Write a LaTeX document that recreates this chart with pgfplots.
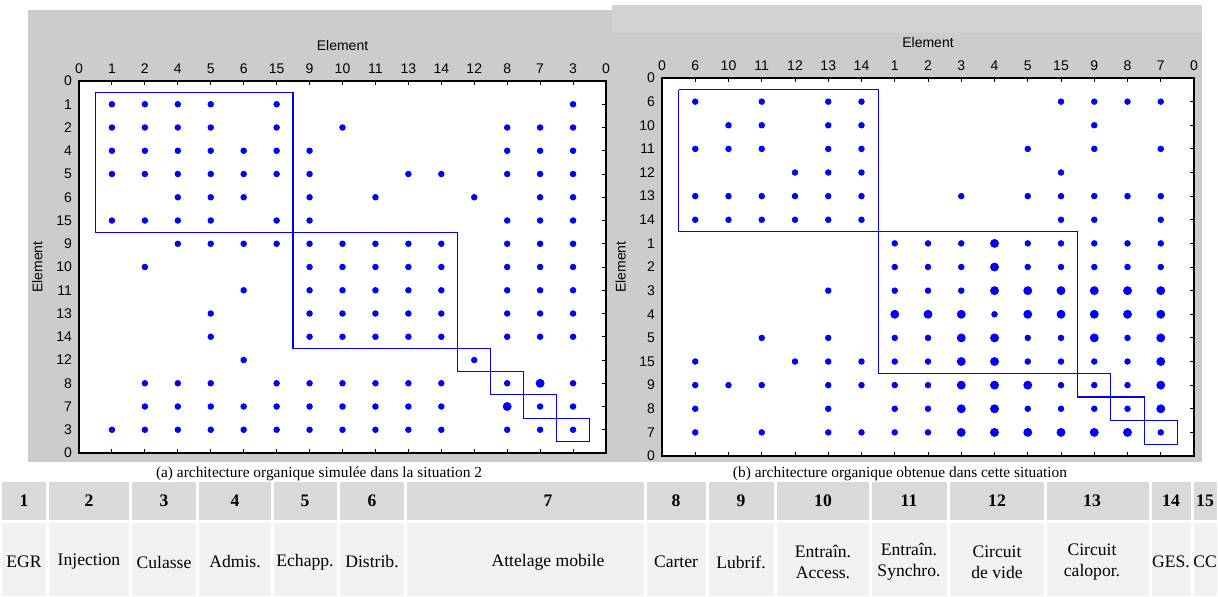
\documentclass[border=0pt]{standalone}
\usepackage{pgfplots}
\pgfplotsset{compat=1.18}
\usepackage{fontspec}
\setmainfont{Liberation Serif}
\setsansfont{Liberation Sans}
\definecolor{panelgray}{RGB}{204,204,204}
\definecolor{panellight}{RGB}{210,210,210}
\definecolor{hdrgray}{RGB}{217,217,217}
\definecolor{bodygray}{RGB}{242,242,242}
\definecolor{dotblue}{RGB}{0,0,255}
\newcommand{\mfont}{\sffamily\fontsize{7}{8}\selectfont}
\pgfplotsset{
  matrixaxis/.style={
    scale only axis, anchor=north west,
    xmin=0, xmax=16, ymin=0, ymax=16, y dir=reverse,
    xtick={0,...,16}, ytick={0,...,16},
    xticklabel pos=upper, xtick pos=both,
    yticklabel pos=left, ytick pos=right,
    tick align=inside, major tick length=2.2pt,
    tick style={black, line width=0.5pt},
    axis line style={black, line width=0.7pt},
    tick label style={font=\mfont},
    label style={font=\mfont},
    xlabel=Element, ylabel=Element,
    axis background/.style={fill=white},
    clip=false,
  },
  sdot/.style={only marks, mark=*, mark size=1.4pt, color=dotblue, mark options={draw=dotblue, fill=dotblue}},
  bdot/.style={only marks, mark=*, mark size=2pt, color=dotblue, mark options={draw=dotblue, fill=dotblue}},
  blk/.style={color=dotblue, line width=0.6pt, mark=none},
}
\begin{document}
\begin{tikzpicture}
\useasboundingbox (0,0) rectangle (609pt,-298pt);
\begin{scope}[x=0.5pt,y=-0.5pt]
  \fill[panelgray] (28,10) rectangle (612,462);
  \fill[panelgray] (612,5) rectangle (1202,462);
  \fill[panellight] (612,5) rectangle (1202,33);
\end{scope}

% ---------- left matrix ----------
\begin{axis}[matrixaxis, at={(39.5pt,-40.5pt)}, width=263.5pt, height=186pt,
  xticklabels={0,1,2,4,5,6,15,9,10,11,13,14,12,8,7,3,0},
  yticklabels={0,1,2,4,5,6,15,9,10,11,13,14,12,8,7,3,0}]
\addplot[sdot] coordinates {
(1,1)(2,1)(3,1)(4,1)(6,1)(15,1)
(1,2)(2,2)(3,2)(4,2)(6,2)(8,2)(13,2)(14,2)(15,2)
(1,3)(2,3)(3,3)(4,3)(5,3)(6,3)(7,3)(13,3)(14,3)(15,3)
(1,4)(2,4)(3,4)(4,4)(5,4)(6,4)(7,4)(10,4)(11,4)(13,4)(14,4)(15,4)
(3,5)(4,5)(5,5)(7,5)(9,5)(12,5)(14,5)(15,5)
(1,6)(2,6)(3,6)(4,6)(6,6)(7,6)(13,6)(14,6)(15,6)
(3,7)(4,7)(5,7)(6,7)(7,7)(8,7)(9,7)(10,7)(11,7)(13,7)(14,7)(15,7)
(2,8)(7,8)(8,8)(9,8)(10,8)(11,8)(13,8)(14,8)(15,8)
(5,9)(7,9)(8,9)(9,9)(10,9)(11,9)(13,9)(14,9)(15,9)
(4,10)(7,10)(8,10)(9,10)(10,10)(11,10)(13,10)(14,10)(15,10)
(4,11)(7,11)(8,11)(9,11)(10,11)(11,11)(13,11)(14,11)(15,11)
(5,12)(12,12)
(2,13)(3,13)(4,13)(6,13)(7,13)(8,13)(9,13)(10,13)(11,13)(13,13)(15,13)
(2,14)(3,14)(4,14)(5,14)(6,14)(7,14)(8,14)(9,14)(10,14)(11,14)(14,14)(15,14)
(1,15)(2,15)(3,15)(4,15)(5,15)(6,15)(7,15)(8,15)(9,15)(10,15)(11,15)(13,15)(14,15)(15,15)
};
\addplot[bdot] coordinates {(14,13)(13,14)};
\addplot[blk] coordinates {(0.5,0.5)(6.5,0.5)(6.5,6.5)(0.5,6.5)(0.5,0.5)};
\addplot[blk] coordinates {(6.5,6.5)(11.5,6.5)(11.5,11.5)(6.5,11.5)(6.5,6.5)};
\addplot[blk] coordinates {(11.5,11.5)(12.5,11.5)(12.5,12.5)(11.5,12.5)(11.5,11.5)};
\addplot[blk] coordinates {(12.5,12.5)(13.5,12.5)(13.5,13.5)(12.5,13.5)(12.5,12.5)};
\addplot[blk] coordinates {(13.5,13.5)(14.5,13.5)(14.5,14.5)(13.5,14.5)(13.5,13.5)};
\addplot[blk] coordinates {(14.5,14.5)(15.5,14.5)(15.5,15.5)(14.5,15.5)(14.5,14.5)};
\end{axis}

% ---------- right matrix ----------
\begin{axis}[matrixaxis, at={(331pt,-39pt)}, width=266pt, height=189pt,
  xticklabels={0,6,10,11,12,13,14,1,2,3,4,5,15,9,8,7,0},
  yticklabels={0,6,10,11,12,13,14,1,2,3,4,5,15,9,8,7,0}]
\addplot[sdot] coordinates {
(1,1)(3,1)(5,1)(6,1)(12,1)(13,1)(14,1)(15,1)
(2,2)(3,2)(5,2)(6,2)(13,2)
(1,3)(2,3)(3,3)(5,3)(6,3)(11,3)(13,3)(15,3)
(4,4)(5,4)(6,4)(12,4)
(1,5)(2,5)(3,5)(4,5)(5,5)(6,5)(9,5)(11,5)(12,5)(13,5)(14,5)(15,5)
(1,6)(2,6)(3,6)(4,6)(5,6)(6,6)(12,6)(13,6)(15,6)
(7,7)(8,7)(9,7)(11,7)(12,7)(13,7)(14,7)(15,7)
(7,8)(8,8)(9,8)(11,8)(12,8)(13,8)(14,8)(15,8)
(5,9)(7,9)(8,9)(9,9)
(10,10)
(3,11)(5,11)(7,11)(8,11)(11,11)(12,11)(14,11)
(1,12)(4,12)(5,12)(6,12)(7,12)(8,12)(11,12)(12,12)(13,12)(14,12)
(1,13)(2,13)(3,13)(5,13)(6,13)(7,13)(8,13)(12,13)(13,13)(14,13)
(1,14)(5,14)(7,14)(8,14)(11,14)(12,14)(13,14)(14,14)
(1,15)(3,15)(5,15)(6,15)(7,15)(8,15)(15,15)
};
\addplot[bdot] coordinates {
(10,7)(10,8)
(10,9)(11,9)(12,9)(13,9)(14,9)(15,9)
(7,10)(8,10)(9,10)(11,10)(12,10)(13,10)(14,10)(15,10)
(9,11)(10,11)(13,11)(15,11)
(9,12)(10,12)(15,12)
(9,13)(10,13)(11,13)(15,13)
(9,14)(10,14)(15,14)
(9,15)(10,15)(11,15)(12,15)(13,15)(14,15)
};
\addplot[blk] coordinates {(0.5,0.5)(6.5,0.5)(6.5,6.5)(0.5,6.5)(0.5,0.5)};
\addplot[blk] coordinates {(6.5,6.5)(12.5,6.5)(12.5,12.5)(6.5,12.5)(6.5,6.5)};
\addplot[blk] coordinates {(12.5,12.5)(13.5,12.5)(13.5,13.5)(12.5,13.5)(12.5,12.5)};
\addplot[blk] coordinates {(13.5,13.5)(14.5,13.5)(14.5,14.5)(13.5,14.5)(13.5,13.5)};
\addplot[blk] coordinates {(14.5,14.5)(15.5,14.5)(15.5,15.5)(14.5,15.5)(14.5,14.5)};
\end{axis}

% ---------- captions and table ----------
\begin{scope}[x=0.5pt,y=-0.5pt]
  \node[font=\fontsize{7.7}{9}\selectfont, inner sep=0pt] at (319,474) {(a) architecture organique simulée dans la situation 2};
  \node[font=\fontsize{7.7}{9}\selectfont, inner sep=0pt] at (900,474) {(b) architecture organique obtenue dans cette situation};
  \foreach \a/\b/\c/\n/\t in {0/47/24/1/EGR, 47/130/89/2/Injection, 130/197/164/3/Culasse, 197/272/235/4/Admis., 272/338/305/5/Echapp., 338/405/372/6/Distrib., 405/645/548/7/Attelage mobile, 645/707/676/8/Carter, 707/775/741/9/Lubrif., 775/870/823/10/{Entraîn.\\Access.}, 870/948/909/11/{Entraîn.\\Synchro.}, 948/1045/997/12/{Circuit\\de vide}, 1045/1150/1092/13/{Circuit\\calopor.}, 1150/1192/1171/14/GES., 1192/1218/1205/15/CC}{
    \fill[hdrgray] (\a+1.5,482) rectangle (\b-1.5,520);
    \fill[bodygray] (\a+1.5,523) rectangle (\b-1.5,596);
    \node[font=\bfseries\fontsize{8.8}{10}\selectfont, inner sep=0pt] at (\c,501) {\n};
    \node[font=\fontsize{8.8}{10.5}\selectfont, align=center, inner sep=0pt] at (\c,562) {\t};
  }
\end{scope}
\end{tikzpicture}
\end{document}
